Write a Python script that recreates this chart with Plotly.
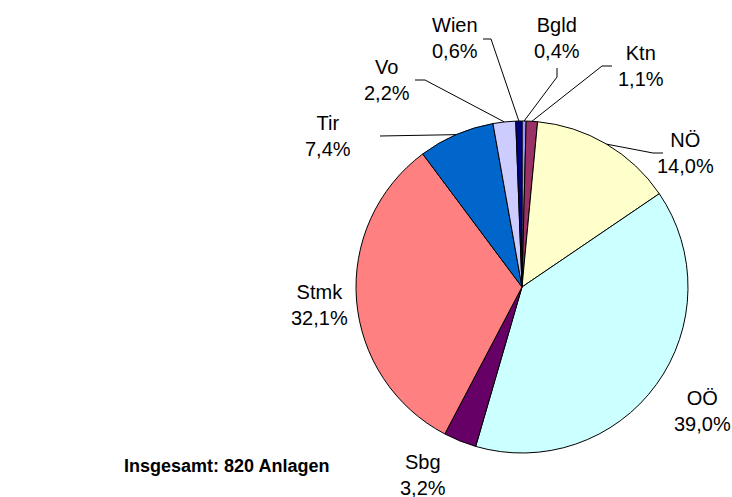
import math
import plotly.graph_objects as go

# ---- data ----
labels = ["Bgld", "Ktn", "NÖ", "OÖ", "Sbg", "Stmk", "Tir", "Vo", "Wien"]
values = [0.4, 1.1, 14.0, 39.0, 3.2, 32.1, 7.4, 2.2, 0.6]
colors = ["#9999FF", "#993366", "#FFFFCC", "#CCFFFF", "#660066",
          "#FF8080", "#0066CC", "#CCCCFF", "#000080"]
title_text = "Insgesamt: 820 Anlagen"

# ---- layout constants (pixels) ----
W, H = 732, 497
CX, CY, R = 522, 287, 166
# label centres
label_pos = {
    "Bgld": (557, 38), "Ktn": (641, 66), "NÖ": (685, 153), "OÖ": (702, 411),
    "Sbg": (423, 475), "Stmk": (319, 305), "Tir": (328, 136), "Vo": (387, 80),
    "Wien": (455, 38),
}
# leader-line elbow and end points
leaders = {
    "Wien": [(491, 39), (483, 39)],
    "Bgld": [(557, 77), (557, 68)],
    "Ktn": [(602, 66), (612, 66)],
    "Vo": [(425, 80), (415, 80)],
    "Tir": [(380, 136)],
    "NÖ": [(653, 153), (663, 153)],
}


def px(x):
    return x / W


def py(y):
    return (H - y) / H


fig = go.Figure(go.Pie(
    labels=labels, values=values, sort=False, direction="clockwise",
    rotation=0, textinfo="none", hoverinfo="skip",
    marker=dict(colors=colors, line=dict(color="black", width=1)),
    domain=dict(x=[px(CX - R), px(CX + R)], y=[py(CY + R), py(CY - R)]),
    showlegend=False,
))

total = sum(values)
cum = 0.0
shapes = []
annotations = []
for lab, v in zip(labels, values):
    mid = 2 * math.pi * (cum + v / 2) / total
    cum += v
    pct = f"{v:.1f}".replace(".", ",") + "%"
    x, y = label_pos[lab]
    annotations.append(dict(
        x=px(x), y=py(y), xref="paper", yref="paper", text=f"{lab}<br>{pct}",
        showarrow=False, xanchor="center", yanchor="middle",
        font=dict(family="Liberation Sans, Arial", size=20, color="black"),
    ))
    if lab in leaders:
        rx = CX + R * math.sin(mid)
        ry = CY - R * math.cos(mid)
        pts = [(rx, ry)] + leaders[lab]
        path = "M " + " L ".join(f"{px(a)},{py(b)}" for a, b in pts)
        shapes.append(dict(type="path", xref="paper", yref="paper", path=path,
                           line=dict(color="black", width=1)))

annotations.append(dict(
    x=px(122), y=py(466), xref="paper", yref="paper", text=f"<b>{title_text}</b>",
    showarrow=False, xanchor="left", yanchor="middle",
    font=dict(family="Liberation Sans, Arial", size=18, color="black"),
))

fig.update_layout(
    width=W, height=H, margin=dict(l=0, r=0, t=0, b=0),
    paper_bgcolor="white", plot_bgcolor="white",
    shapes=shapes, annotations=annotations,
)

fig.write_html(
    "out.html",
    config={"displayModeBar": False},
    post_script="document.body.style.margin='0';document.body.style.padding='0';"
                "document.body.style.overflow='hidden';",
)
